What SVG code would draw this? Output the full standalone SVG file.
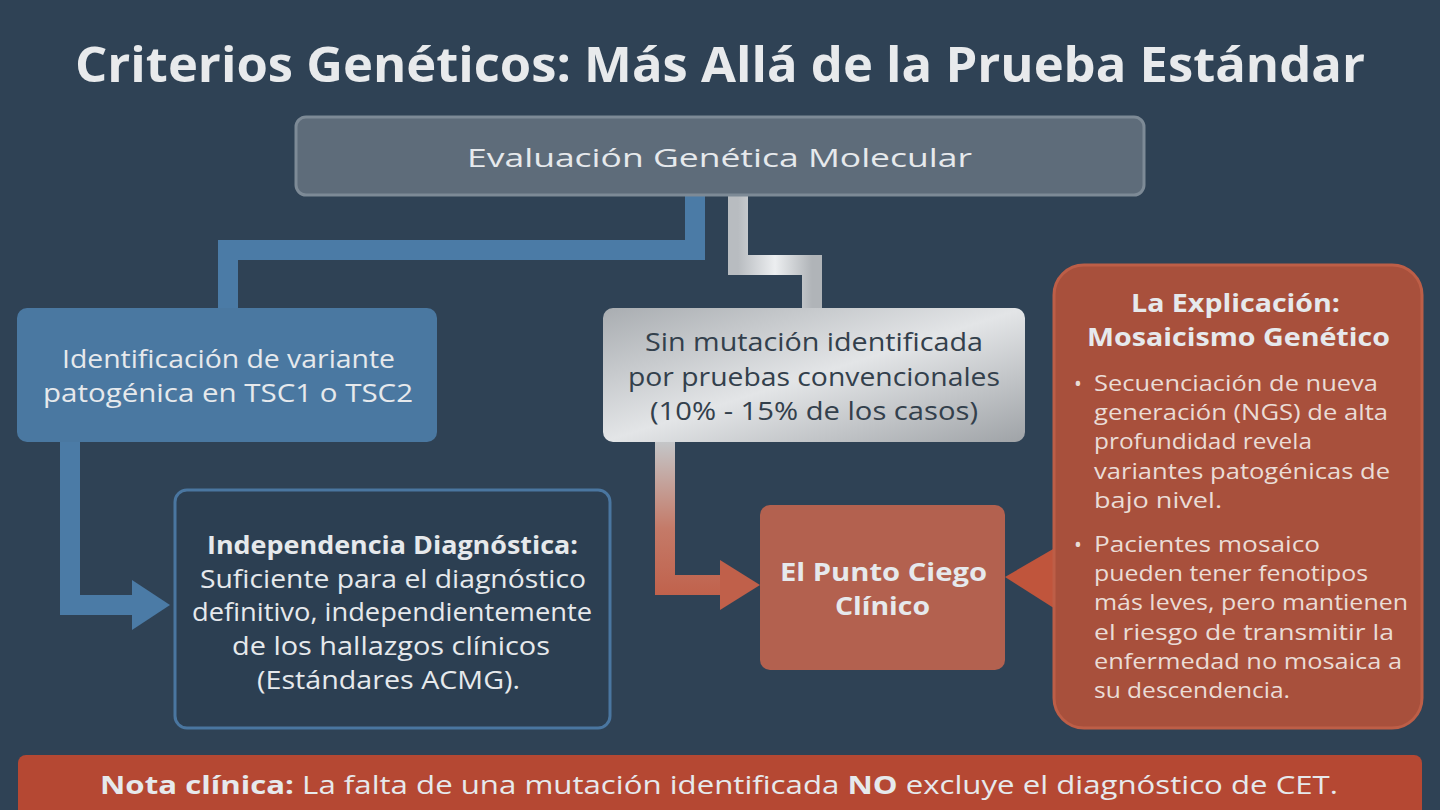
<svg xmlns="http://www.w3.org/2000/svg" width="1440" height="810" viewBox="0 0 1440 810">
<defs>
<style>
text{font-family:"Open Sans","Noto Sans","Liberation Sans",sans-serif;}
.title{font-size:48px;font-weight:700;fill:#e8eaec;}
.lt{fill:#e6e9ec;font-size:25px;}
.dk{fill:#33404c;font-size:25px;}
.b{font-weight:700;}
.sm{fill:#eadcd6;font-size:21px;}
</style>
<linearGradient id="silver" x1="0" y1="0" x2="1" y2="1">
<stop offset="0" stop-color="#a9adb1"/>
<stop offset="0.5" stop-color="#e3e5e7"/>
<stop offset="1" stop-color="#9fa3a7"/>
</linearGradient>
<linearGradient id="silverV" x1="0" y1="0" x2="1" y2="0">
<stop offset="0" stop-color="#b8bcc0"/>
<stop offset="0.5" stop-color="#eceef0"/>
<stop offset="1" stop-color="#b0b4b8"/>
</linearGradient>
<linearGradient id="s2r" x1="0" y1="442" x2="0" y2="600" gradientUnits="userSpaceOnUse">
<stop offset="0" stop-color="#c4c6c8"/>
<stop offset="0.55" stop-color="#c47a68"/>
<stop offset="1" stop-color="#c0604a"/>
</linearGradient>
</defs>
<rect x="0" y="0" width="1440" height="810" fill="#2f4255"/>
<text class="title" x="75" y="82" textLength="1290" lengthAdjust="spacingAndGlyphs">Criterios Genéticos: Más Allá de la Prueba Estándar</text>

<g id="connectors">
<path d="M695 195 V250 H228 V310" fill="none" stroke="#4b7ba6" stroke-width="20"/>
<path d="M738 195 V265 H812 V310" fill="none" stroke="url(#silverV)" stroke-width="20"/>
<path d="M70 440 V605 H140" fill="none" stroke="#4b7ba6" stroke-width="20"/>
<polygon points="132,580 170,605 132,630" fill="#4b7ba6"/>
<path d="M665 440 V585 H725" fill="none" stroke="url(#s2r)" stroke-width="20"/>
<polygon points="720,560 760,585 720,610" fill="#c0604a"/>
</g>

<g id="top">
<rect x="296" y="117" width="848" height="78" rx="10" fill="#5e6c7a" stroke="#7d8a96" stroke-width="3"/>
<text class="lt" x="467" y="167" font-size="30" textLength="505" lengthAdjust="spacingAndGlyphs">Evaluación Genética Molecular</text>
</g>

<g id="blue">
<rect x="17" y="308" width="420" height="134" rx="10" fill="#4a78a1"/>
<text class="lt" x="62" y="368" fill="#c9d6e2" textLength="333" lengthAdjust="spacingAndGlyphs">Identificación de variante</text>
<text class="lt" x="43" y="402" fill="#c9d6e2" textLength="370" lengthAdjust="spacingAndGlyphs">patogénica en TSC1 o TSC2</text>
</g>

<g id="silverbox">
<rect x="603" y="308" width="422" height="134" rx="10" fill="url(#silver)"/>
<text class="dk" x="645" y="351" textLength="338" lengthAdjust="spacingAndGlyphs">Sin mutación identificada</text>
<text class="dk" x="628" y="386" textLength="372" lengthAdjust="spacingAndGlyphs">por pruebas convencionales</text>
<text class="dk" x="650" y="420" textLength="328" lengthAdjust="spacingAndGlyphs">(10% - 15% de los casos)</text>
</g>

<g id="indep">
<rect x="175" y="490" width="435" height="238" rx="12" fill="#2c3f52" stroke="#4a76a0" stroke-width="3"/>
<text class="lt b" x="207" y="554" font-size="23" textLength="371" lengthAdjust="spacingAndGlyphs">Independencia Diagnóstica:</text>
<text class="lt" x="200" y="588" font-size="23" textLength="386" lengthAdjust="spacingAndGlyphs">Suficiente para el diagnóstico</text>
<text class="lt" x="192" y="621" font-size="23" textLength="400" lengthAdjust="spacingAndGlyphs">definitivo, independientemente</text>
<text class="lt" x="232" y="655" font-size="23" textLength="318" lengthAdjust="spacingAndGlyphs">de los hallazgos clínicos</text>
<text class="lt" x="257" y="689" font-size="23" textLength="263" lengthAdjust="spacingAndGlyphs">(Estándares ACMG).</text>
</g>

<g id="punto">
<rect x="760" y="505" width="245" height="165" rx="10" fill="#b3614f"/>
<text class="lt b" x="780" y="581" font-size="26" textLength="207" lengthAdjust="spacingAndGlyphs">El Punto Ciego</text>
<text class="lt b" x="835" y="615" font-size="26" textLength="95" lengthAdjust="spacingAndGlyphs">Clínico</text>
</g>

<g id="mosaic">
<polygon points="1060,545 1005,577 1060,612" fill="#c0553c"/>
<rect x="1054" y="265" width="368" height="463" rx="30" fill="#a8503c" stroke="#bd5e47" stroke-width="3"/>
<text class="lt b" x="1131" y="312" font-size="22" fill="#ecdcd5" textLength="209" lengthAdjust="spacingAndGlyphs">La Explicación:</text>
<text class="lt b" x="1087" y="346" font-size="22" fill="#ecdcd5" textLength="303" lengthAdjust="spacingAndGlyphs">Mosaicismo Genético</text>
<text class="sm" x="1074" y="391">•</text>
<text class="sm" x="1094" y="391" textLength="284" lengthAdjust="spacingAndGlyphs">Secuenciación de nueva</text>
<text class="sm" x="1094" y="420" textLength="294" lengthAdjust="spacingAndGlyphs">generación (NGS) de alta</text>
<text class="sm" x="1094" y="449" textLength="218" lengthAdjust="spacingAndGlyphs">profundidad revela</text>
<text class="sm" x="1094" y="479" textLength="296" lengthAdjust="spacingAndGlyphs">variantes patogénicas de</text>
<text class="sm" x="1094" y="508" textLength="128" lengthAdjust="spacingAndGlyphs">bajo nivel.</text>
<text class="sm" x="1074" y="552">•</text>
<text class="sm" x="1094" y="552" textLength="226" lengthAdjust="spacingAndGlyphs">Pacientes mosaico</text>
<text class="sm" x="1094" y="581" textLength="274" lengthAdjust="spacingAndGlyphs">pueden tener fenotipos</text>
<text class="sm" x="1094" y="610" textLength="314" lengthAdjust="spacingAndGlyphs">más leves, pero mantienen</text>
<text class="sm" x="1094" y="640" textLength="300" lengthAdjust="spacingAndGlyphs">el riesgo de transmitir la</text>
<text class="sm" x="1094" y="669" textLength="308" lengthAdjust="spacingAndGlyphs">enfermedad no mosaica a</text>
<text class="sm" x="1094" y="698" textLength="196" lengthAdjust="spacingAndGlyphs">su descendencia.</text>
</g>

<g id="nota">
<rect x="18" y="755" width="1404" height="70" rx="8" fill="#b54833"/>
<text class="lt" x="100" y="794" font-size="27" fill="#eee" textLength="1238" lengthAdjust="spacingAndGlyphs"><tspan class="b">Nota clínica:</tspan> La falta de una mutación identificada <tspan class="b">NO</tspan> excluye el diagnóstico de CET.</text>
</g>
</svg>
